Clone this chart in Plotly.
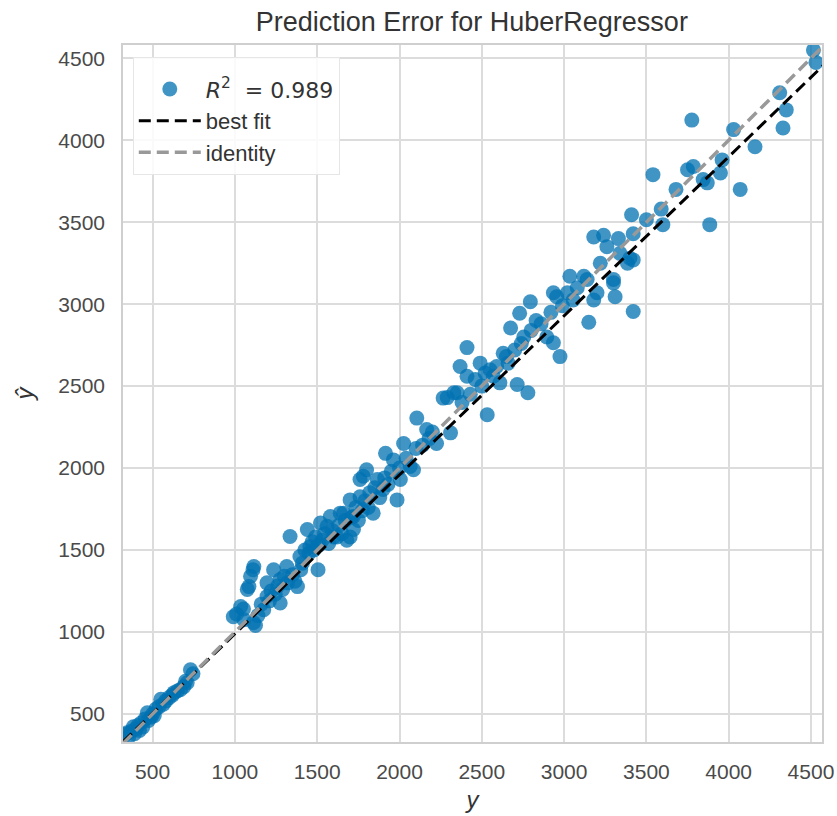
import numpy as np
import plotly.graph_objects as go

# Observed values (y) and predicted values (y_hat)
y_true = [335, 345, 355, 370, 383, 390, 400, 410, 420, 430, 440, 455, 468, 475, 490, 500, 510, 520, 540, 550,
          565, 580, 600, 620, 630, 650, 670, 690, 700, 710, 730, 745,
          990, 1010, 1035, 1052, 1055, 1075, 1085, 1095, 1110, 1115, 1113, 1125, 1140, 1160, 1175, 1195, 1195, 1210,
          1220, 1235, 1245, 1260, 1275, 1275, 1290, 1300, 1315, 1320, 1335, 1350, 1365, 1380, 1395, 1400, 1410, 1425,
          1440, 1450, 1455, 1470, 1480, 1490, 1505, 1510, 1520, 1530, 1545, 1560, 1570, 1580, 1590, 1600, 1620, 1630,
          1640, 1650, 1660, 1670, 1680, 1700, 1700, 1710, 1720, 1720, 1735, 1750, 1760, 1760, 1775, 1780, 1790, 1800,
          1810, 1820, 1840, 1850, 1865, 1880, 1900, 1910, 1915, 1930, 1950, 1963, 1985, 2000, 2005, 2025, 2040, 2065,
          2085, 2100, 2105, 2140, 2165, 2180, 2200, 2225, 2265, 2290, 2310, 2330, 2350, 2368, 2380, 2410, 2410, 2430,
          2460, 2490, 2500, 2520, 2533, 2550, 2570, 2590, 2610, 2630, 2650, 2660, 2675, 2700, 2715, 2730, 2740, 2755,
          2780, 2795, 2800, 2830, 2860, 2895, 2920, 2935, 2935, 2955, 2975, 2990, 3020, 3035, 3055, 3080, 3120, 3140,
          3150, 3180, 3180, 3200, 3220, 3240, 3260, 3300, 3300, 3310, 3330, 3340, 3385, 3400, 3420, 3420, 3420, 3410,
          3500, 3540, 3590, 3600, 3680, 3750, 3776, 3785, 3845, 3870, 3885, 3950, 3960, 4030, 4070, 4160, 4310, 4330,
          4350, 4515, 4530]
y_pred = [375, 385, 360, 395, 422, 380, 410, 430, 400, 445, 420, 470, 507, 460, 480, 500, 490, 530, 545, 590,
          560, 580, 600, 615, 630, 640, 650, 667, 700, 690, 770, 745,
          1093, 1110, 1155, 1140, 1075, 1260, 1277, 1340, 1380, 1400, 1057, 1040, 1100, 1170, 1136, 1217, 1300, 1190,
          1250, 1380, 1230, 1280, 1177, 1320, 1260, 1340, 1400, 1300, 1583, 1350, 1310, 1277, 1460, 1380, 1420, 1500,
          1625, 1480, 1520, 1550, 1500, 1580, 1380, 1530, 1665, 1560, 1600, 1645, 1540, 1705, 1620, 1580, 1580, 1650,
          1725, 1600, 1725, 1680, 1560, 1806, 1580, 1700, 1625, 1705, 1760, 1680, 1825, 1930, 1740, 1950, 1800, 1990,
          1760, 1850, 1725, 1880, 1930, 1820, 1870, 1940, 2090, 1900, 1980, 2050, 1806, 2000, 1930, 2150, 2060, 2010,
          1990, 2120, 2305, 2140, 2235, 2180, 2220, 2150, 2427, 2430, 2215, 2460, 2460, 2620, 2400, 2560, 2735, 2450,
          2540, 2640, 2500, 2580, 2325, 2600, 2560, 2620, 2520, 2700, 2680, 2640, 2855, 2720, 2510, 2945, 2760, 2800,
          2460, 3015, 2840, 2900, 2880, 2800, 2950, 2765, 3070, 3045, 2680, 2990, 3070, 3170, 3025, 3100, 3170, 3150,
          2890, 3025, 3410, 3070, 3250, 3420, 3350, 3130, 3150, 3045, 3400, 3310, 3250, 3280, 3270, 2955, 3430, 3545,
          3515, 3790, 3580, 3485, 3700, 3820, 4123, 3840, 3760, 3740, 3485, 3800, 3880, 4065, 3700, 3960, 4290, 4075,
          4185, 4550, 4475]

# Best-fit line parameters
best_fit_slope = 0.970
best_fit_intercept = 19.0

r2_label = '<span style="font-family:DejaVu Sans"><i>R</i><sup>2</sup>  = 0.989</span>'
title_text = "Prediction Error for HuberRegressor"
x_ticks = [500, 1000, 1500, 2000, 2500, 3000, 3500, 4000, 4500]
y_ticks = [500, 1000, 1500, 2000, 2500, 3000, 3500, 4000, 4500]

x_range = [320, 4567]
y_range = [329, 4581]

yt = np.array(y_true, dtype=float)
yp = np.array(y_pred, dtype=float)
lim = [min(x_range[0], y_range[0]), max(x_range[1], y_range[1])]
fit_x = np.array(lim, dtype=float)
fit_y = best_fit_slope * fit_x + best_fit_intercept

FONT = "Liberation Sans, Arial, sans-serif"

fig = go.Figure()
fig.add_trace(go.Scatter(
    x=yt, y=yp, mode="markers", name=r2_label,
    marker=dict(color="#0072B2", size=15, opacity=0.75, line=dict(width=0)),
))
fig.add_trace(go.Scatter(
    x=fit_x, y=fit_y, mode="lines", name="best fit",
    line=dict(color="black", width=3, dash="12px,6px"),
))
fig.add_trace(go.Scatter(
    x=lim, y=lim, mode="lines", name="identity",
    line=dict(color="#999999", width=3.5, dash="12px,6px"),
))

axis_common = dict(
    showgrid=True, gridcolor="#dcdcdc", gridwidth=1.5,
    showline=True, linecolor="#cfcfcf", linewidth=1.5, mirror=True,
    zeroline=False, ticks="", automargin=False,
    tickfont=dict(family=FONT, size=21, color="#4a4a4a"),
)

fig.update_layout(
    width=837, height=816,
    margin=dict(l=123, r=15, t=45, b=74),
    paper_bgcolor="white", plot_bgcolor="white",
    title=dict(text=title_text, x=0.5637, xanchor="center", y=0.973, yanchor="middle",
               font=dict(family=FONT, size=27, color="#333333")),
    xaxis=dict(range=x_range, tickvals=x_ticks, ticklabelstandoff=10,
               title=dict(text="<i>y</i>", standoff=9,
                          font=dict(family=FONT, size=24, color="#333333")),
               **axis_common),
    yaxis=dict(range=y_range, tickvals=y_ticks, ticklabelstandoff=12,
               title=dict(text="<i>ŷ</i>", standoff=18,
                          font=dict(family=FONT, size=24, color="#333333")),
               **axis_common),
    legend=dict(x=0.014, y=0.983, xanchor="left", yanchor="top",
                bgcolor="rgba(255,255,255,0.85)", bordercolor="#e6e6e6", borderwidth=1,
                font=dict(family=FONT, size=22, color="#333333"),
                title=dict(text=" ", font=dict(size=8)),
                itemwidth=62),
    showlegend=True,
)

fig.write_html("out.html", config={"displayModeBar": False},
               post_script="document.body.style.margin='0';")
